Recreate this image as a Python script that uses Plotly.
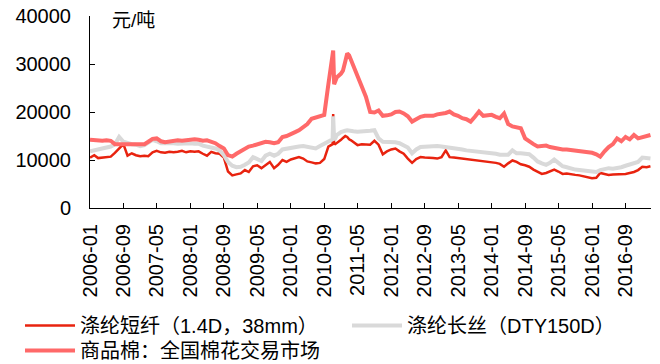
import pandas as pd
import plotly.graph_objects as go

# Monthly prices, 2006-01 .. 2017-03 (yuan / tonne)
months = pd.date_range("2006-01-01", "2017-03-01", freq="MS")

staple_fiber = [
    10500, 11000, 10400, 10500, 10600, 10700, 11500, 12500, 13300, 10900,
    11400, 11000, 10800, 10900, 10800, 11600, 11900, 11600, 11500, 11700,
    11600, 11700, 11900, 11600, 11800, 11700, 11800, 11300, 10900, 11700,
    11400, 11300, 10500, 7600, 6800, 7000, 7200, 7900, 7500, 8700,
    8900, 8300, 9000, 9600, 8300, 9000, 10000, 9600, 10100, 10400,
    10600, 10300, 9700, 9500, 9300, 9400, 10200, 12800, 13300, 13500,
    14200, 15000, 14300, 13800, 13100, 13300, 13200, 13200, 14000, 13200,
    11200, 11800, 12200, 12400, 11800, 11300, 10300, 9400, 10200, 10600,
    10500, 10500, 10400, 10300, 10600, 12000, 10600, 10500, 10400, 10300,
    10200, 10100, 10000, 9900, 9800, 9700, 9500, 9400, 9200, 8600,
    9300, 9900, 9600, 9100, 8900, 8600, 8000, 7500, 7100, 7300,
    7700, 8000, 7600, 7100, 7200, 7000, 6900, 6800, 6600, 6400,
    6200, 6300, 7300, 7100, 6900, 7000, 7000, 7100, 7100, 7300,
    7500, 7900, 8600, 8500, 8700,
]

filament = [
    11800, 12000, 12200, 12400, 12600, 12800, 13300, 14800, 13800, 13500,
    13300, 13200, 12900, 13100, 13600, 14200, 13900, 13500, 13500, 13600,
    13500, 13400, 13500, 13500, 13500, 13400, 13400, 13000, 12800, 12700,
    12400, 12000, 11000, 9600, 8800, 8500, 8600, 9000, 9500, 10600,
    10300, 9800, 10900, 11300, 10900, 11300, 12200, 12400, 12600, 12800,
    12800, 12900, 12800, 12600, 12400, 12900, 13400, 14000, 14300, 15200,
    15800, 16100, 16200, 16000, 15900, 15900, 16000, 16100, 16200, 14500,
    13800, 13800, 13800, 13700, 13500, 13100, 12600, 11400, 12200, 12700,
    12800, 12900, 12800, 12900, 12800, 12700, 12600, 12400, 12300, 12200,
    12000, 11900, 11900, 11800, 11800, 11700, 11500, 11300, 11100, 11000,
    11100, 12000, 11400, 11400, 11300, 11200, 10500, 9700, 9300, 9000,
    9400, 10100, 9400, 8700, 8500, 8200, 8000, 7900, 7800, 7700,
    7600, 7500, 7900, 8200, 8300, 8200, 8300, 8500, 8800, 9000,
    9300, 9600, 10500, 10400, 10300,
]

cotton = [
    14200, 14100, 14000, 14000, 14100, 14000, 13300, 13300, 13200, 13300,
    13300, 13200, 13100, 13300, 13800, 14400, 14500, 13900, 13700, 13900,
    14000, 14100, 14000, 14100, 14300, 14300, 14200, 14000, 14100, 13800,
    13500, 12900, 12400, 11000, 10700, 11300, 11800, 12300, 12800, 13000,
    13300, 13400, 13800, 13700, 13500, 13700, 14800, 15000, 15500, 15800,
    16200, 16900, 17500, 18600, 18900, 19000, 19400, 25800, 31500, 27200,
    28000, 30500, 31800, 29300, 27200, 25000, 23200, 20000, 19900, 20300,
    19200, 19300, 19500, 20000, 20100, 19700, 19100, 18000, 18600, 19000,
    19200, 19100, 19200, 19500, 19600, 19800, 20100, 19500, 19200, 18700,
    18500, 18000, 19000, 20100, 19200, 19300, 19400, 19000, 18700, 19700,
    17500, 17000, 16800, 16600, 14500, 13800, 13300, 12800, 12900, 13000,
    12700, 12500, 12300, 12200, 12200, 12100, 12100, 12000, 11800, 11600,
    11500, 11200, 10700, 11800, 12700, 13300, 14500, 13900, 14800, 14300,
    15200, 14500, 14800, 15000, 15200,
]

# Extra mid-month quotes around the 2010-11 spike and the 2011 peak
detail_dates = pd.to_datetime([
    "2010-10-15", "2010-11-05", "2010-11-12", "2010-11-20",
    "2011-01-15", "2011-02-15", "2011-03-15",
])
staple_detail = [13100, 19600, 13400, 13300, 14600, 14800, 14100]
filament_detail = [14200, 19100, 14200, 14500, 16000, 16200, 16200]
cotton_detail = [29000, 32800, 25800, 26500, 28600, 32200, 30800]

series_names = [
    "涤纶短纤（1.4D，38mm）",
    "涤纶长丝（DTY150D）",
    "商品棉：全国棉花交易市场",
]
series_colors = ["#E8230F", "#D9D9D9", "#FF6969"]
series_widths = [2.5, 4, 4]
series_legends = ["legend", "legend2", "legend3"]


def merged(monthly, detail):
    s = pd.concat([
        pd.Series(monthly, index=months),
        pd.Series(detail, index=detail_dates),
    ]).sort_index()
    return s.index, s.values


fig = go.Figure()
for name, monthly, detail, color, width, lg in zip(
    series_names,
    [staple_fiber, filament, cotton],
    [staple_detail, filament_detail, cotton_detail],
    series_colors,
    series_widths,
    series_legends,
):
    x, y = merged(monthly, detail)
    fig.add_trace(go.Scatter(
        x=x, y=y, mode="lines", name=name, legend=lg,
        line=dict(color=color, width=width),
    ))

font_family = "Liberation Sans, Arial, Noto Sans CJK SC, sans-serif"
legend_style = dict(
    orientation="v",
    xref="container", yref="container",
    xanchor="left", yanchor="top",
    font=dict(size=20, family=font_family, color="black"),
    bgcolor="rgba(0,0,0,0)",
    itemwidth=50,
)

fig.update_layout(
    width=660, height=364,
    margin=dict(l=90, r=9, t=16, b=156, autoexpand=False),
    paper_bgcolor="white", plot_bgcolor="white",
    font=dict(family=font_family, size=20, color="black"),
    showlegend=True,
    legend=dict(x=20 / 660, y=1 - 306 / 364, **legend_style),
    legend2=dict(x=347 / 660, y=1 - 306 / 364, **legend_style),
    legend3=dict(x=20 / 660, y=1 - 331 / 364, **legend_style),
    xaxis=dict(
        type="date",
        range=["2006-01-01", "2017-03-05"],
        tick0="2006-01-01", dtick="M8",
        tickformat="%Y-%m", tickangle=-90,
        ticks="inside", ticklen=5, tickcolor="black",
        showline=True, linecolor="black", linewidth=1,
        showgrid=False, zeroline=False,
        tickfont=dict(size=20),
        ticklabelstandoff=7,
    ),
    yaxis=dict(
        range=[0, 40000], dtick=10000, tickformat="d",
        ticks="inside", ticklen=5, tickcolor="black",
        showline=True, linecolor="black", linewidth=1,
        showgrid=False, zeroline=False,
        tickfont=dict(size=20),
        ticklabelstandoff=14,
    ),
    annotations=[dict(
        text="元/吨", xref="paper", yref="paper",
        x=0.036, y=0.974, xanchor="left", yanchor="middle",
        showarrow=False, font=dict(size=19),
    )],
)

fig.write_html("out.html")
